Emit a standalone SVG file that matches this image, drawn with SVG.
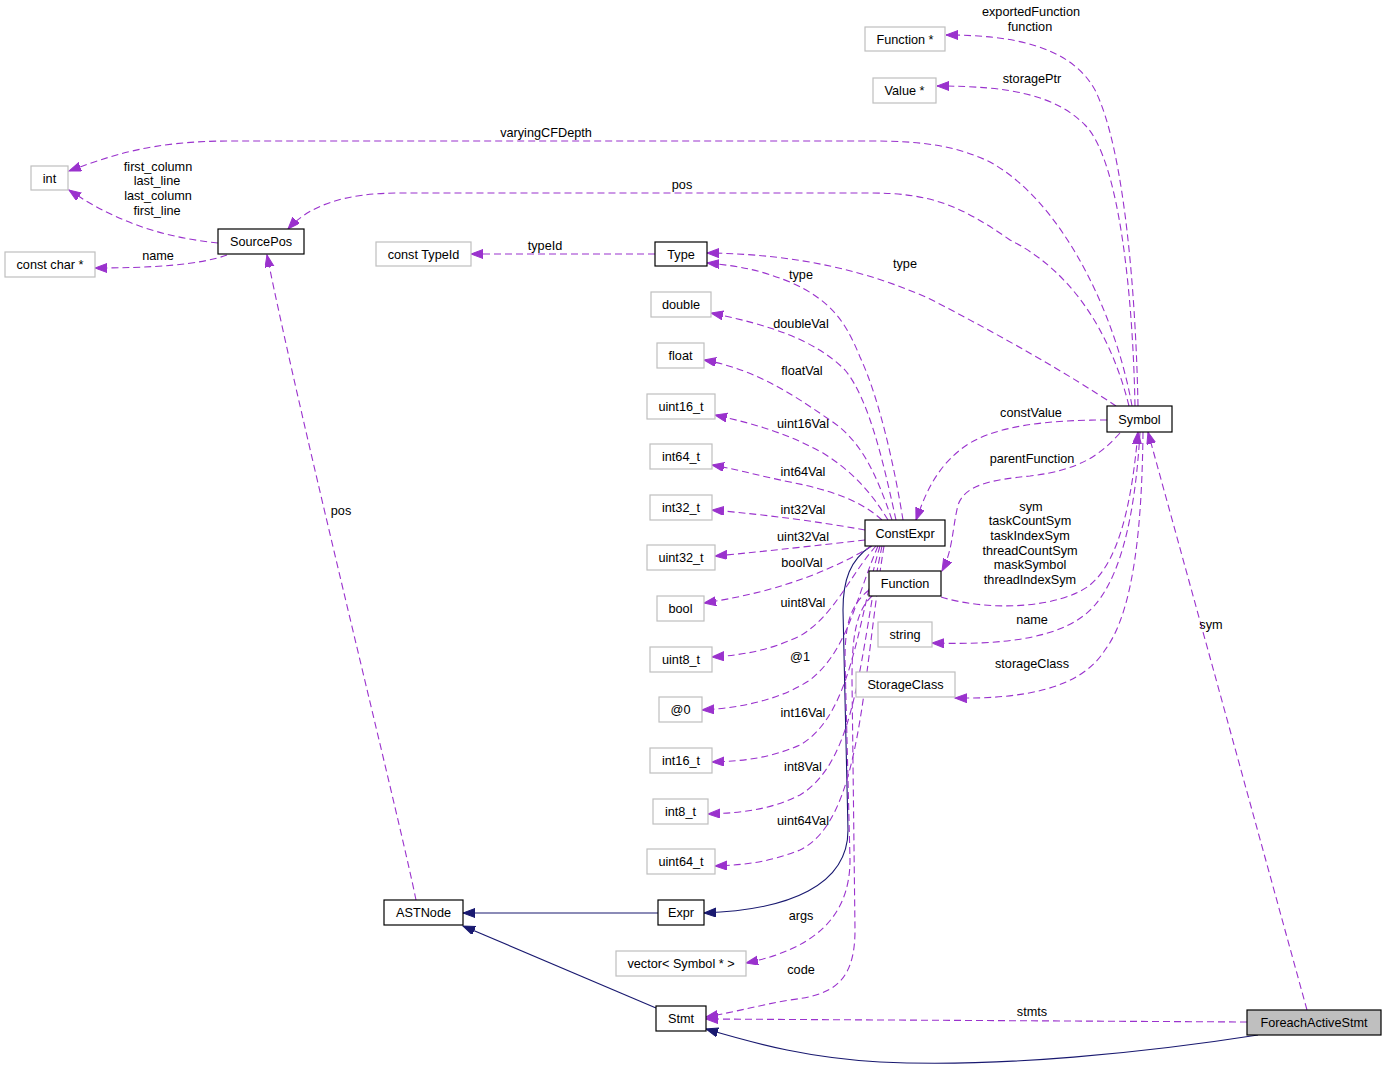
<svg xmlns="http://www.w3.org/2000/svg" width="1387" height="1069" viewBox="0 0 1387 1069">
<style>
text{font-family:"Liberation Sans",Arial,sans-serif;font-size:12.7px;fill:#000;text-anchor:middle}
.n rect{fill:#fff;stroke:#000;stroke-width:1.2}
.g rect{fill:#fff;stroke:#bfbfbf;stroke-width:1.2}
.f rect{fill:#bfbfbf;stroke:#000;stroke-width:1.2}
.d{fill:none;stroke:#9a32cd;stroke-width:1.1;stroke-dasharray:7,4;marker-end:url(#ap)}
.i{fill:none;stroke:#191970;stroke-width:1.1;marker-end:url(#an)}
</style>
<defs>
<marker id="ap" markerUnits="userSpaceOnUse" markerWidth="14" markerHeight="11" refX="12" refY="4.5" orient="auto"><path d="M0,0 L12,4.5 L0,9 z" fill="#9a32cd" stroke="#9a32cd"/></marker>
<marker id="an" markerUnits="userSpaceOnUse" markerWidth="14" markerHeight="11" refX="12" refY="4.5" orient="auto"><path d="M0,0 L12,4.5 L0,9 z" fill="#191970" stroke="#191970"/></marker>
</defs>
<rect width="1387" height="1069" fill="#fff"/>
<g id="edges">
<path class="d" d="M1138,406 C1136,300 1125,150 1095,90 C1070,45 1010,35 946,35"/>
<text x="1031" y="16">exportedFunction</text><text x="1030" y="31">function</text>
<path class="d" d="M1135,406 C1133,300 1120,160 1085,125 C1055,95 1010,86 937,86"/>
<text x="1032" y="83">storagePtr</text>
<path class="d" d="M1132,406 C1115,310 1060,200 990,162 C955,145 920,141 870,141 L230,141 C150,141 110,156 69,171"/>
<text x="546" y="137">varyingCFDepth</text>
<path class="d" d="M1129,406 C1110,330 1070,270 1010,240 C960,205 930,193 870,193 L400,193 C345,193 310,205 288,229"/>
<text x="682" y="189">pos</text>
<path class="d" d="M1116,406 C1070,375 1000,335 930,299 C870,272 800,254 707,253"/>
<text x="905" y="268">type</text>
<path class="d" d="M1107,420 C1050,420 990,425 960,450 C935,470 925,495 916,520"/>
<text x="1031" y="417">constValue</text>
<path class="d" d="M1120,433 C1100,455 1080,470 1030,476 C990,480 965,485 958,505 C952,530 953,550 942,571"/>
<text x="1032" y="463">parentFunction</text>
<path class="d" d="M941,597 C990,612 1060,608 1090,585 C1120,560 1132,500 1138,432"/>
<text x="1031" y="511">sym</text><text x="1030" y="525">taskCountSym</text><text x="1030" y="540">taskIndexSym</text><text x="1030" y="555">threadCountSym</text><text x="1030" y="569">maskSymbol</text><text x="1030" y="584">threadIndexSym</text>
<path class="d" d="M1140,432 C1136,500 1125,570 1095,605 C1065,640 1000,645 932,643"/>
<text x="1032" y="624">name</text>
<path class="d" d="M1143,432 C1142,520 1135,610 1105,650 C1080,690 1020,699 955,698"/>
<text x="1032" y="668">storageClass</text>
<path class="d" d="M1307,1010 L1148,432"/>
<text x="1211" y="629">sym</text>
<path class="d" d="M1247,1022 L706,1019"/>
<text x="1032" y="1016">stmts</text>
<path class="i" d="M1258,1035 C1150,1052 1000,1068 880,1062 C810,1058 760,1045 706,1029"/>
<path class="i" d="M656,1008 L463,926"/>
<path class="i" d="M658,913 L463,913"/>
<path class="i" d="M871,546 C850,560 843,580 843,610 L848,830 C848,885 790,910 704,913"/>
<path class="d" d="M869,590 C850,605 845,625 845,660 L850,860 C850,920 810,950 746,963"/>
<text x="801" y="920">args</text>
<path class="d" d="M872,596 C855,612 852,640 852,680 L855,930 C855,985 830,995 790,1000 C760,1005 735,1012 706,1017"/>
<text x="801" y="974">code</text>
<path class="d" d="M218,243 C170,238 120,225 69,190"/>
<text x="158" y="171">first_column</text><text x="157" y="185">last_line</text><text x="158" y="200">last_column</text><text x="157" y="215">first_line</text>
<path class="d" d="M227,255 C200,265 150,268 95,268"/>
<text x="158" y="260">name</text>
<path class="d" d="M655,254 L471,254"/>
<text x="545" y="250">typeId</text>
<path class="d" d="M416,900 C400,820 300,420 267,255"/>
<text x="341" y="515">pos</text>
<path class="d" d="M903,520 C895,470 880,400 860,357 C845,320 830,300 790,282 C760,270 740,266 707,263"/>
<text x="801" y="279">type</text>
<path class="d" d="M896,520 C885,470 870,400 845,370 C815,340 770,325 711,313"/>
<text x="801" y="328">doubleVal</text>
<path class="d" d="M892,520 C875,470 860,440 830,420 C800,400 760,370 704,360"/>
<text x="802" y="375">floatVal</text>
<path class="d" d="M888,520 C870,490 850,470 823,453 C790,435 760,425 715,415"/>
<text x="803" y="428">uint16Val</text>
<path class="d" d="M882,520 C860,500 830,490 790,482 C760,476 740,470 712,465"/>
<text x="803" y="476">int64Val</text>
<path class="d" d="M865,530 C820,522 770,515 712,510"/>
<text x="803" y="514">int32Val</text>
<path class="d" d="M865,540 C820,545 770,551 715,556"/>
<text x="803" y="541">uint32Val</text>
<path class="d" d="M872,546 C840,565 790,590 704,603"/>
<text x="802" y="567">boolVal</text>
<path class="d" d="M876,546 C850,575 835,615 800,636 C770,650 745,655 712,657"/>
<text x="803" y="607">uint8Val</text>
<path class="d" d="M878,546 C855,600 848,650 810,680 C780,700 740,708 702,710"/>
<text x="800" y="661">@1</text>
<path class="d" d="M880,546 C858,620 852,715 800,745 C770,758 745,761 712,762"/>
<text x="803" y="717">int16Val</text>
<path class="d" d="M882,546 C860,650 858,760 800,795 C770,810 740,813 708,814"/>
<text x="803" y="771">int8Val</text>
<path class="d" d="M884,546 C862,680 862,820 800,850 C770,862 745,865 715,866"/>
<text x="803" y="825">uint64Val</text>
</g>
<g id="node-FunctionPtr" class="g"><rect x="865" y="27" width="80" height="24"/><text x="905" y="43.5">Function *</text></g>
<g id="node-ValuePtr" class="g"><rect x="873" y="78" width="63" height="25"/><text x="904.5" y="95">Value *</text></g>
<g id="node-int" class="g"><rect x="31" y="166" width="37" height="24"/><text x="49.5" y="182.5">int</text></g>
<g id="node-SourcePos" class="n"><rect x="218" y="229" width="86" height="25"/><text x="261" y="246">SourcePos</text></g>
<g id="node-constchar" class="g"><rect x="5" y="252" width="90" height="25"/><text x="50" y="269">const char *</text></g>
<g id="node-constTypeId" class="g"><rect x="376" y="242" width="95" height="24"/><text x="423.5" y="258.5">const TypeId</text></g>
<g id="node-Type" class="n"><rect x="655" y="242" width="52" height="24"/><text x="681" y="258.5">Type</text></g>
<g id="node-double" class="g"><rect x="651" y="292" width="60" height="25"/><text x="681" y="309">double</text></g>
<g id="node-float" class="g"><rect x="657" y="343" width="47" height="25"/><text x="680.5" y="360">float</text></g>
<g id="node-uint16_t" class="g"><rect x="647" y="394" width="68" height="25"/><text x="681" y="411">uint16_t</text></g>
<g id="node-int64_t" class="g"><rect x="650" y="444" width="62" height="25"/><text x="681" y="461">int64_t</text></g>
<g id="node-int32_t" class="g"><rect x="650" y="495" width="62" height="25"/><text x="681" y="512">int32_t</text></g>
<g id="node-uint32_t" class="g"><rect x="647" y="545" width="68" height="25"/><text x="681" y="562">uint32_t</text></g>
<g id="node-bool" class="g"><rect x="657" y="596" width="47" height="25"/><text x="680.5" y="613">bool</text></g>
<g id="node-uint8_t" class="g"><rect x="650" y="647" width="62" height="25"/><text x="681" y="664">uint8_t</text></g>
<g id="node-at0" class="g"><rect x="659" y="697" width="43" height="25"/><text x="680.5" y="714">@0</text></g>
<g id="node-int16_t" class="g"><rect x="650" y="748" width="62" height="25"/><text x="681" y="765">int16_t</text></g>
<g id="node-int8_t" class="g"><rect x="653" y="799" width="55" height="25"/><text x="680.5" y="816">int8_t</text></g>
<g id="node-uint64_t" class="g"><rect x="647" y="849" width="68" height="25"/><text x="681" y="866">uint64_t</text></g>
<g id="node-ConstExpr" class="n"><rect x="865" y="520" width="80" height="26"/><text x="905" y="537.5">ConstExpr</text></g>
<g id="node-Function" class="n"><rect x="869" y="571" width="72" height="25"/><text x="905" y="588">Function</text></g>
<g id="node-string" class="g"><rect x="878" y="622" width="54" height="25"/><text x="905" y="639">string</text></g>
<g id="node-StorageClass" class="g"><rect x="856" y="672" width="99" height="25"/><text x="905.5" y="689">StorageClass</text></g>
<g id="node-Symbol" class="n"><rect x="1107" y="406" width="65" height="26"/><text x="1139.5" y="423.5">Symbol</text></g>
<g id="node-ASTNode" class="n"><rect x="384" y="900" width="79" height="25"/><text x="423.5" y="917">ASTNode</text></g>
<g id="node-Expr" class="n"><rect x="658" y="900" width="46" height="25"/><text x="681" y="917">Expr</text></g>
<g id="node-vectorSymbol" class="g"><rect x="616" y="951" width="130" height="25"/><text x="681" y="968">vector&lt; Symbol * &gt;</text></g>
<g id="node-Stmt" class="n"><rect x="656" y="1006" width="50" height="25"/><text x="681" y="1023">Stmt</text></g>
<g id="node-ForeachActiveStmt" class="f"><rect x="1247" y="1010" width="134" height="25"/><text x="1314" y="1027">ForeachActiveStmt</text></g>
</svg>
